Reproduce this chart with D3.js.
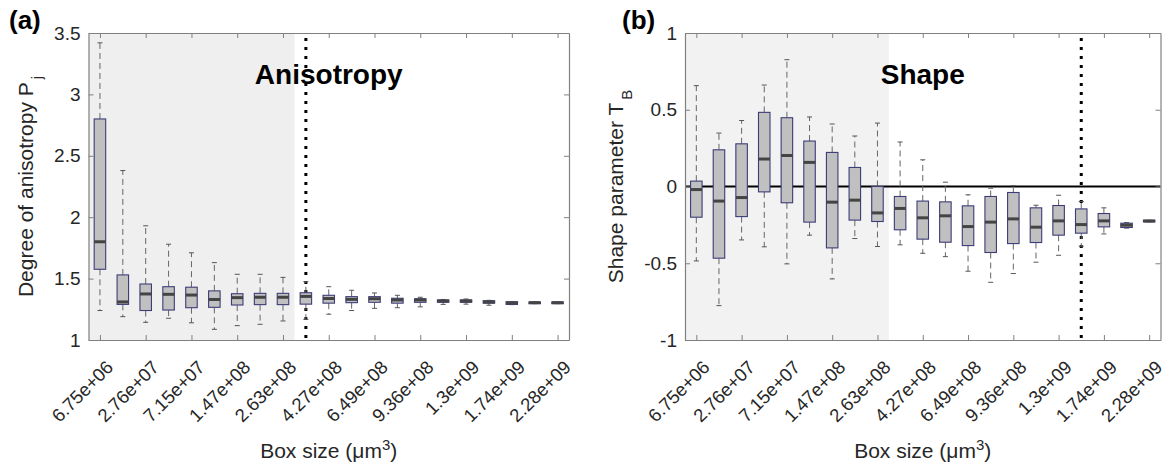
<!DOCTYPE html>
<html>
<head>
<meta charset="utf-8">
<script src="https://cdn.jsdelivr.net/npm/d3@7"></script>
<style>
  html, body { margin: 0; padding: 0; background: #fff; }
  svg { display: block; font-family: "Liberation Sans", Arial, Helvetica, sans-serif; }
</style>
</head>
<body>
<svg id="chart" width="1167" height="468"></svg>
<script>
// ---------- DATA ----------
const tickLabels = ["6.75e+06","2.76e+07","7.15e+07","1.47e+08","2.63e+08","4.27e+08","6.49e+08","9.36e+08","1.3e+09","1.74e+09","2.28e+09"];
const tickPositions = [1,3,5,7,9,11,13,15,17,19,21];
const boxPositions = [1,2,3,4,5,6,7,8,9,10,11,12,13,14,15,16,17,18,19,20,21];

// (a) Degree of anisotropy Pj
const anisoHigh = [3.42,2.38,1.93,1.78,1.71,1.63,1.535,1.535,1.51,1.475,1.434,1.405,1.383,1.364,1.348,1.33,1.334,1.323,1.312,1.309,1.309];
const anisoQ3   = [2.80,1.53,1.456,1.434,1.43,1.40,1.377,1.38,1.38,1.385,1.364,1.353,1.353,1.34,1.336,1.326,1.326,1.32,1.312,1.309,1.309];
const anisoMed  = [1.80,1.31,1.375,1.372,1.366,1.33,1.345,1.348,1.348,1.355,1.338,1.331,1.336,1.326,1.326,1.318,1.318,1.309,1.30,1.304,1.304];
const anisoQ1   = [1.576,1.29,1.24,1.244,1.263,1.266,1.285,1.288,1.288,1.292,1.30,1.304,1.307,1.30,1.307,1.307,1.307,1.30,1.29,1.296,1.296];
const anisoLow  = [1.24,1.19,1.144,1.177,1.14,1.087,1.117,1.128,1.155,1.168,1.21,1.24,1.258,1.263,1.27,1.29,1.292,1.283,1.288,1.296,1.296];

// (b) Shape parameter TB
const shapeHigh = [0.657,0.348,0.43,0.661,0.826,0.453,0.407,0.329,0.413,0.29,0.174,0.028,-0.054,-0.011,0.005,-0.122,-0.057,-0.098,-0.139,-0.235,-0.22];
const shapeQ3   = [0.035,0.239,0.278,0.483,0.448,0.296,0.222,0.124,0.0,-0.065,-0.095,-0.10,-0.126,-0.065,-0.039,-0.139,-0.124,-0.146,-0.176,-0.239,-0.22];
const shapeMed  = [-0.02,-0.095,-0.072,0.179,0.202,0.157,-0.102,-0.089,-0.172,-0.143,-0.204,-0.191,-0.261,-0.232,-0.211,-0.265,-0.224,-0.248,-0.224,-0.252,-0.225];
const shapeQ1   = [-0.20,-0.467,-0.196,-0.035,-0.106,-0.232,-0.40,-0.219,-0.228,-0.282,-0.343,-0.363,-0.385,-0.43,-0.372,-0.365,-0.317,-0.304,-0.263,-0.267,-0.23];
const shapeLow  = [-0.485,-0.776,-0.348,-0.393,-0.504,-0.317,-0.602,-0.339,-0.391,-0.38,-0.435,-0.457,-0.552,-0.624,-0.567,-0.493,-0.448,-0.389,-0.309,-0.271,-0.23];

const anisoTicks = [1,1.5,2,2.5,3,3.5];
const anisoTickLabels = ["1","1.5","2","2.5","3","3.5"];
const shapeTicks = [-1,-0.5,0,0.5,1];
const shapeTickLabels = ["-1","-0.5","0","0.5","1"];

const xDomain = [0.5, 21.5];
const shadedRange = [0.5, 9.5];

// ---------- DRAW ----------
const svg = d3.select("#chart");

function panel(opts) {
  const {left, right, top, bottom, yDomain, yTicks, yTickLabels, high, q3, med, q1, low,
         shadeFill, dottedAt, zeroLine, title, titleBaseline, yLabelMain, yLabelSub, yLabelX, letter, letterX} = opts;
  const x = d3.scaleLinear().domain(xDomain).range([left, right]);
  const y = d3.scaleLinear().domain(yDomain).range([bottom, top]);
  const g = svg.append("g");

  // shaded region
  g.append("rect")
    .attr("x", x(shadedRange[0])).attr("y", top)
    .attr("width", x(shadedRange[1]) - x(shadedRange[0]))
    .attr("height", bottom - top)
    .attr("fill", shadeFill);

  // zero line
  if (zeroLine) {
    g.append("line")
      .attr("x1", left).attr("x2", right)
      .attr("y1", y(0)).attr("y2", y(0))
      .attr("stroke", "#000").attr("stroke-width", 2);
  }

  // dotted line
  g.append("line")
    .attr("x1", x(dottedAt)).attr("x2", x(dottedAt))
    .attr("y1", top + 5).attr("y2", bottom)
    .attr("stroke", "#000").attr("stroke-width", 3)
    .attr("stroke-dasharray", "3,6");

  // title
  g.append("text")
    .attr("x", (left + right) / 2).attr("y", titleBaseline)
    .attr("text-anchor", "middle")
    .attr("font-size", 28).attr("font-weight", "bold")
    .attr("fill", "#000")
    .text(title);

  const bw = 11.5;
  const capW = 5;
  const data = boxPositions.map((p, i) => ({p, hi: high[i], q3: q3[i], med: med[i], q1: q1[i], lo: low[i]}));
  const bg = g.selectAll("g.box").data(data).enter().append("g").attr("class", "box");

  // whiskers
  bg.append("line")
    .attr("x1", d => x(d.p)).attr("x2", d => x(d.p))
    .attr("y1", d => y(d.q3)).attr("y2", d => y(d.hi))
    .attr("stroke", "#666").attr("stroke-width", 1).attr("stroke-dasharray", "6,4");
  bg.append("line")
    .attr("x1", d => x(d.p)).attr("x2", d => x(d.p))
    .attr("y1", d => y(d.q1)).attr("y2", d => y(d.lo))
    .attr("stroke", "#666").attr("stroke-width", 1).attr("stroke-dasharray", "6,4");
  // caps
  bg.append("line")
    .attr("x1", d => x(d.p) - capW / 2).attr("x2", d => x(d.p) + capW / 2)
    .attr("y1", d => y(d.hi)).attr("y2", d => y(d.hi))
    .attr("stroke", "#555").attr("stroke-width", 1);
  bg.append("line")
    .attr("x1", d => x(d.p) - capW / 2).attr("x2", d => x(d.p) + capW / 2)
    .attr("y1", d => y(d.lo)).attr("y2", d => y(d.lo))
    .attr("stroke", "#555").attr("stroke-width", 1);
  // boxes
  bg.append("rect")
    .attr("x", d => x(d.p) - bw / 2)
    .attr("y", d => y(d.q3))
    .attr("width", bw)
    .attr("height", d => Math.max(1, y(d.q1) - y(d.q3)))
    .attr("fill", "#c0c0c0")
    .attr("stroke", "#3c3c78").attr("stroke-width", 1.1);
  // medians
  bg.append("line")
    .attr("x1", d => x(d.p) - bw / 2).attr("x2", d => x(d.p) + bw / 2)
    .attr("y1", d => y(d.med)).attr("y2", d => y(d.med))
    .attr("stroke", "#444").attr("stroke-width", 3);

  // axes frame and ticks (inward, on all sides)
  const axisColor = "#808080";
  const xb = d3.axisBottom(x).tickValues(tickPositions).tickSizeInner(-5).tickSizeOuter(0).tickFormat("");
  const xt = d3.axisTop(x).tickValues(tickPositions).tickSizeInner(-5).tickSizeOuter(0).tickFormat("");
  const yl = d3.axisLeft(y).tickValues(yTicks).tickSizeInner(-5).tickSizeOuter(0).tickFormat((d, i) => yTickLabels[i]).tickPadding(8);
  const yr = d3.axisRight(y).tickValues(yTicks).tickSizeInner(-5).tickSizeOuter(0).tickFormat("");

  const gxb = g.append("g").attr("transform", `translate(0,${bottom})`).call(xb);
  const gxt = g.append("g").attr("transform", `translate(0,${top})`).call(xt);
  const gyl = g.append("g").attr("transform", `translate(${left},0)`).call(yl);
  const gyr = g.append("g").attr("transform", `translate(${right},0)`).call(yr);
  [gxb, gxt, gyl, gyr].forEach(a => {
    a.selectAll("path.domain").attr("stroke", axisColor).attr("stroke-width", 1.2);
    a.selectAll(".tick line").attr("stroke", axisColor);
  });
  gyl.selectAll(".tick text")
    .attr("font-size", 19).attr("fill", "#262626")
    .attr("font-family", "Liberation Sans, Arial, sans-serif");

  // rotated x tick labels
  g.selectAll("text.xtl").data(tickPositions).enter().append("text")
    .attr("class", "xtl")
    .attr("transform", d => `translate(${x(d) + 5},${bottom + 19}) rotate(-45)`)
    .attr("text-anchor", "end")
    .attr("dy", "0.72em")
    .attr("font-size", 18.5).attr("fill", "#262626")
    .text((d, i) => tickLabels[i]);

  // x label
  const xl = g.append("text")
    .attr("x", (left + right) / 2).attr("y", 458)
    .attr("text-anchor", "middle")
    .attr("font-size", 21).attr("fill", "#262626");
  xl.append("tspan").text("Box size (μm");
  xl.append("tspan").attr("baseline-shift", "super").attr("font-size", 15).text("3");
  xl.append("tspan").text(")");

  // y label
  const ylb = g.append("text")
    .attr("transform", `translate(${yLabelX},${(top + bottom) / 2}) rotate(-90)`)
    .attr("text-anchor", "middle")
    .attr("font-size", 21).attr("fill", "#262626");
  ylb.append("tspan").text(yLabelMain);
  ylb.append("tspan").attr("baseline-shift", "sub").attr("font-size", 15).attr("dx", 3).text(yLabelSub);

  // panel letter
  g.append("text")
    .attr("x", letterX).attr("y", 29)
    .attr("font-size", 26).attr("font-weight", "bold").attr("fill", "#000")
    .text(letter);
}

panel({
  left: 88.5, right: 569, top: 33, bottom: 340,
  yDomain: [1, 3.5], yTicks: anisoTicks, yTickLabels: anisoTickLabels,
  high: anisoHigh, q3: anisoQ3, med: anisoMed, q1: anisoQ1, low: anisoLow,
  shadeFill: "#efefef", dottedAt: 10, zeroLine: false,
  title: "Anisotropy", titleBaseline: 84,
  yLabelMain: "Degree of anisotropy P", yLabelSub: "j", yLabelX: 33,
  letter: "(a)", letterX: 9
});

panel({
  left: 685, right: 1160.5, top: 33, bottom: 340,
  yDomain: [-1, 1], yTicks: shapeTicks, yTickLabels: shapeTickLabels,
  high: shapeHigh, q3: shapeQ3, med: shapeMed, q1: shapeQ1, low: shapeLow,
  shadeFill: "#f2f2f2", dottedAt: 18, zeroLine: true,
  title: "Shape", titleBaseline: 84,
  yLabelMain: "Shape parameter T", yLabelSub: "B", yLabelX: 623,
  letter: "(b)", letterX: 622
});
</script>
</body>
</html>
